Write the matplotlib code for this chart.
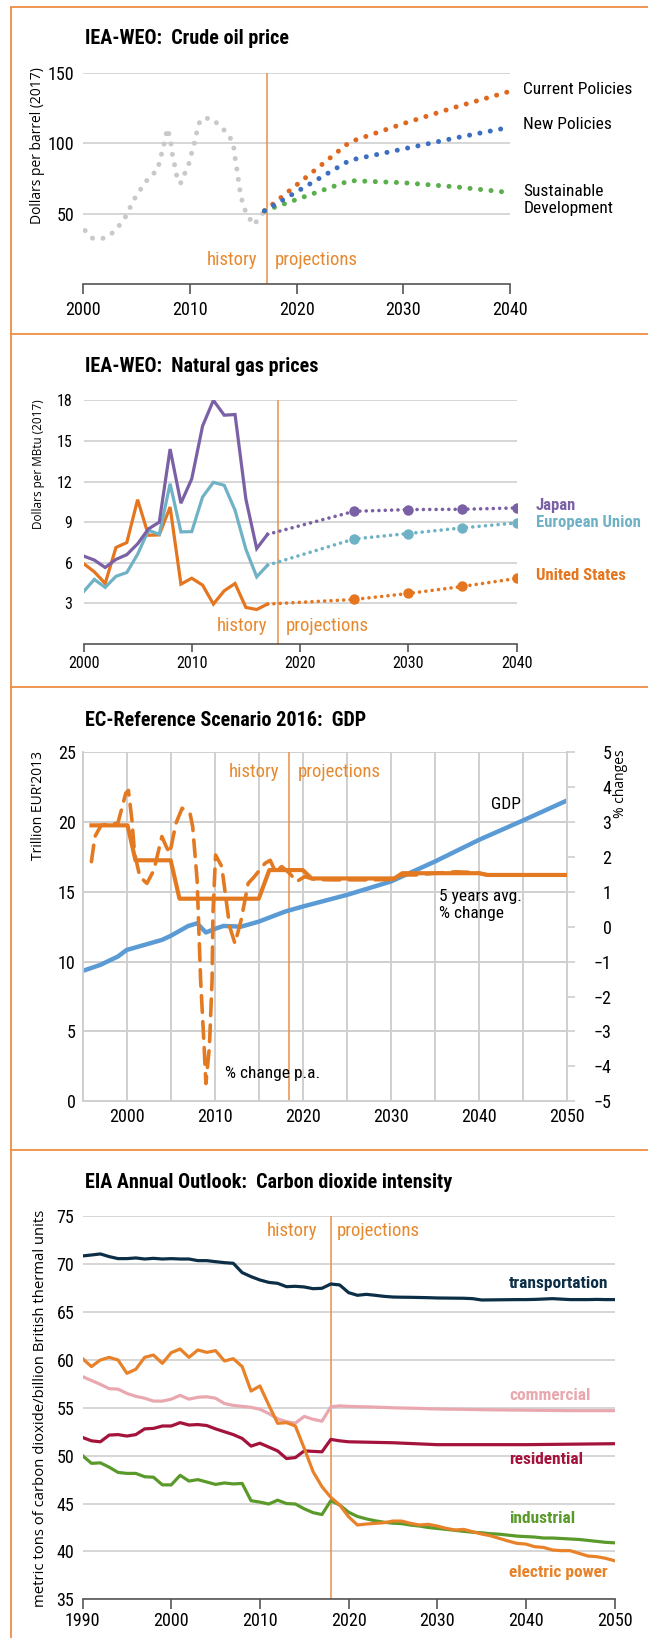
import matplotlib
matplotlib.use("Agg")
import matplotlib.pyplot as plt
from matplotlib import font_manager as fm
from matplotlib.lines import Line2D

# ---- panel 1: IEA-WEO crude oil price ----
oil_hist_years = [2000.2, 2000.9, 2001.9, 2002.8, 2003.5, 2004.1, 2004.5, 2005.0, 2005.6, 2006.2,
                  2007.0, 2007.2, 2007.5, 2007.7, 2007.9, 2008.2, 2008.3, 2008.5, 2008.7, 2008.9,
                  2009.2, 2009.6, 2010.0, 2010.2, 2010.5, 2010.7, 2011.0, 2011.9, 2012.7, 2013.4,
                  2014.0, 2014.2, 2014.3, 2014.5, 2014.6, 2014.8, 2015.0, 2015.4, 2016.0, 2016.6, 2017.0]
oil_hist = [38, 32.5, 32.5, 36.5, 42.5, 49, 56, 63, 69.5, 76,
            81, 88.5, 96, 103.5, 110.5, 103, 95, 87.5, 80, 72,
            72, 80, 87, 94, 102, 109.5, 117, 118, 113.5, 108,
            101.5, 94, 86, 78.5, 70.5, 63, 55.5, 49, 42, 48, 52]
oil_proj_years = [2017, 2025, 2030, 2035, 2040]
oil_current = [52, 101, 114, 126, 137]
oil_new = [52, 88, 96, 104, 111.5]
oil_sustainable = [52, 73.5, 72, 69, 65]

# ---- panel 2: IEA-WEO natural gas prices ----
gas_years = list(range(2000, 2018))
gas_japan = [6.5, 6.2, 5.65, 6.25, 6.6, 7.4, 8.5, 9.0, 14.4, 10.4, 12.2, 16.1, 18.0, 16.9, 16.95, 10.7, 7.05, 8.1]
gas_eu = [3.86, 4.77, 4.18, 5.0, 5.28, 6.63, 8.4, 8.1, 11.84, 8.28, 8.3, 10.86, 11.94, 11.72, 9.88, 7.0, 4.96, 5.82]
gas_us = [5.95, 5.33, 4.47, 7.13, 7.49, 10.66, 8.03, 8.06, 10.12, 4.42, 4.86, 4.35, 2.95, 3.93, 4.47, 2.7, 2.55, 2.95]
gas_proj_years = [2017, 2025, 2030, 2035, 2040]
gas_japan_proj = [8.1, 9.8, 9.93, 9.95, 10.05]
gas_eu_proj = [5.82, 7.76, 8.16, 8.58, 8.94]
gas_us_proj = [2.95, 3.29, 3.73, 4.25, 4.84]

# ---- panel 3: EC reference scenario GDP ----
gdp_years = [1995, 1997, 1999, 2000, 2002, 2004, 2005, 2007, 2008, 2009, 2010, 2011, 2013, 2015,
             2018, 2020, 2025, 2030, 2035, 2040, 2045, 2050]
gdp = [9.33, 9.76, 10.36, 10.83, 11.19, 11.55, 11.84, 12.55, 12.74, 12.08, 12.34, 12.55, 12.5, 12.86,
       13.58, 13.94, 14.77, 15.73, 17.16, 18.71, 20.1, 21.53]
pa_years = [1996.0, 1996.4, 1997.1, 1998.1, 1999.0, 1999.5, 1999.9, 2000.2, 2000.6, 2000.9,
            2001.5, 2002.3, 2003.1, 2004.0, 2004.5, 2004.9, 2005.6, 2006.3, 2007.2, 2007.5,
            2008.0, 2008.4, 2008.8, 2009.0, 2009.4, 2009.7, 2009.8, 2010.1, 2010.8, 2011.2,
            2011.7, 2012.3, 2013.0, 2013.8, 2014.5, 2015.7, 2016.3, 2016.9, 2017.6, 2018.5,
            2019.3, 2020.2, 2021.4, 2023.3, 2025.6, 2028.0, 2030.2, 2031.3, 2032.7, 2035.0,
            2037.4, 2039.7, 2040.9, 2044.4, 2050.0]
pa_change = [1.86, 2.58, 2.9, 2.94, 2.96, 3.43, 3.82, 3.9, 3.05, 2.1,
             1.43, 1.24, 1.62, 2.58, 2.29, 2.1, 2.96, 3.39, 3.24, 2.86,
             1.34, -1.53, -3.44, -4.49, -3.44, -1.53, 0.38, 2.05, 1.72, 0.95,
             0.0, -0.48, 0.19, 1.24, 1.43, 1.81, 1.9, 1.57, 1.72, 1.53,
             1.29, 1.43, 1.35, 1.34, 1.34, 1.34, 1.35, 1.48, 1.48, 1.53,
             1.57, 1.55, 1.48, 1.48, 1.48]
avg_years = [1996, 2000.1, 2001.0, 2005.0, 2006.0, 2015.0, 2016.2, 2020.0, 2021.0, 2030.4, 2031.3,
             2040.0, 2041.0, 2050]
avg_change = [2.9, 2.9, 1.9, 1.9, 0.8, 0.8, 1.62, 1.62, 1.38, 1.38, 1.53, 1.53, 1.48, 1.48]

# ---- panel 4: EIA carbon dioxide intensity ----
co2_years = list(range(1990, 2051))
co2_transport = [70.86, 70.96, 71.07, 70.79, 70.58, 70.58, 70.65, 70.54, 70.61, 70.54,
                 70.58, 70.54, 70.54, 70.37, 70.37, 70.26, 70.16, 70.09, 69.12, 68.7,
                 68.35, 68.1, 68.0, 67.65, 67.69, 67.62, 67.44, 67.48, 67.93, 67.83,
                 67.03, 66.75, 66.85, 66.75, 66.64, 66.57, 66.55, 66.54, 66.52, 66.5,
                 66.47, 66.46, 66.45, 66.44, 66.4, 66.26, 66.27, 66.28, 66.29, 66.3,
                 66.3, 66.32, 66.36, 66.4, 66.35, 66.3, 66.3, 66.3, 66.32, 66.3, 66.3]
co2_electric = [60.13, 59.3, 59.99, 60.27, 59.99, 58.6, 59.02, 60.27, 60.51, 59.64,
                60.76, 61.14, 60.27, 61.04, 60.79, 60.97, 59.89, 60.13, 59.3, 56.75,
                57.28, 55.29, 53.38, 53.45, 53.1, 50.77, 48.33, 46.76, 45.65, 44.85,
                43.63, 42.76, 42.86, 42.93, 43.0, 43.17, 43.17, 42.93, 42.76, 42.83,
                42.65, 42.41, 42.24, 42.3, 42.06, 41.82, 41.64, 41.36, 41.09, 40.84,
                40.77, 40.49, 40.42, 40.15, 40.08, 40.08, 39.8, 39.52, 39.45, 39.28, 39.03]
co2_commercial = [58.25, 57.85, 57.45, 57.0, 56.95, 56.5, 56.2, 56.0, 55.7, 55.7,
                  55.9, 56.3, 55.9, 56.1, 56.15, 56.0, 55.45, 55.25, 55.15, 55.05,
                  54.85, 54.4, 53.85, 53.55, 53.4, 54.1, 53.8, 53.6, 55.1, 55.2,
                  55.15, 55.12, 55.1, 55.07, 55.04, 55.0, 54.98, 54.96, 54.94, 54.9,
                  54.88, 54.86, 54.85, 54.84, 54.82, 54.8, 54.79, 54.78, 54.77, 54.76,
                  54.75, 54.74, 54.73, 54.72, 54.71, 54.7, 54.7, 54.7, 54.7, 54.7, 54.7]
co2_residential = [51.9, 51.55, 51.45, 52.15, 52.2, 52.05, 52.2, 52.8, 52.85, 53.1,
                   53.1, 53.45, 53.2, 53.25, 53.15, 52.8, 52.5, 52.2, 51.8, 51.0,
                   51.3, 50.9, 50.5, 49.7, 49.8, 50.5, 50.45, 50.4, 51.7, 51.55,
                   51.45, 51.43, 51.41, 51.39, 51.37, 51.35, 51.31, 51.27, 51.23, 51.19,
                   51.15, 51.15, 51.15, 51.15, 51.15, 51.15, 51.15, 51.15, 51.15, 51.15,
                   51.15, 51.16, 51.17, 51.18, 51.19, 51.2, 51.21, 51.22, 51.23, 51.24, 51.25]
co2_industrial = [50.0, 49.2, 49.25, 48.8, 48.25, 48.15, 48.15, 47.8, 47.75, 46.95,
                  46.95, 47.95, 47.35, 47.5, 47.25, 47.0, 47.15, 47.05, 47.1, 45.3,
                  45.15, 44.95, 45.35, 45.0, 44.95, 44.45, 44.05, 43.85, 45.3, 44.85,
                  44.1, 43.65, 43.4, 43.2, 43.05, 42.95, 42.9, 42.75, 42.65, 42.5,
                  42.4, 42.3, 42.2, 42.1, 42.0, 41.95, 41.85, 41.8, 41.7, 41.6,
                  41.55, 41.5, 41.4, 41.4, 41.35, 41.3, 41.25, 41.15, 41.05, 40.95, 40.9]

W, H = 648, 1638


def pick_narrow():
    """Find an installed condensed sans family; fall back to a plain one."""
    entries = {}
    for f in fm.fontManager.ttflist:
        entries.setdefault(f.name, set()).add(str(f.stretch))
    narrow = ("condensed", "semi-condensed", "extra-condensed", "ultra-condensed")
    prefs = ["Roboto Condensed", "Liberation Sans Narrow", "Noto Sans Condensed", "Open Sans Condensed",
             "Noto Sans", "DejaVu Sans", "Open Sans", "Roboto", "Lato", "Inter"]
    for name in prefs:
        if name in entries and entries[name] & set(narrow):
            return name, "condensed"
    for name in sorted(entries):
        if "Mono" not in name and "Serif" not in name and entries[name] & set(narrow):
            return name, "condensed"
    for name in ["Liberation Sans", "Roboto", "Noto Sans"]:
        if name in entries:
            return name, "normal"
    return "DejaVu Sans", "normal"


NARROW, STRETCH = pick_narrow()
COND = [NARROW, "DejaVu Sans"]
REG = ["Open Sans", "Noto Sans", "DejaVu Sans"]
plt.rcParams["font.family"] = COND
plt.rcParams["font.stretch"] = STRETCH

FRAME = "#EE8E45"
ORANGE = "#E37A22"
LABEL_OR = "#E6892E"
GRID = "#CFCFCF"
SPINE = "#555555"

fig = plt.figure(figsize=(W / 100, H / 100), dpi=100)


def px_axes(left, top, right, bottom):
    return fig.add_axes([left / W, 1 - bottom / H, (right - left) / W, (bottom - top) / H])


def fig_line(x0, y0, x1, y1):
    fig.add_artist(Line2D([x0 / W, x1 / W], [1 - y0 / H, 1 - y1 / H], transform=fig.transFigure,
                          color=FRAME, lw=1.3, solid_capstyle="butt"))


def title(y, text):
    fig.text(85 / W, 1 - y / H, text, fontsize=14.5, fontweight="bold", va="center", ha="left")


def ylabel(x, y, text, size):
    fig.text(x / W, 1 - y / H, text, rotation=90, fontsize=size, family=REG, fontstretch="normal",
             va="center", ha="center")


def side_label(ax, y, text, color, dx, size, weight="normal"):
    ax.annotate(text, xy=(1, y), xycoords=("axes fraction", "data"), xytext=(dx, 0),
                textcoords="offset points", va="center", ha="left", color=color,
                fontsize=size, fontweight=weight, annotation_clip=False, linespacing=1.15)


def split(ax, x, y, gap_l, gap_r):
    ax.axvline(x, color="#EA9048", lw=1.1, zorder=1)
    ax.annotate("history", xy=(x, y), xytext=(-gap_l, 0), textcoords="offset points",
                ha="right", va="center", color=LABEL_OR, fontsize=13.5)
    ax.annotate("projections", xy=(x, y), xytext=(gap_r, 0), textcoords="offset points",
                ha="left", va="center", color=LABEL_OR, fontsize=13.5)


def base_style(ax, xsize, ysize, ypad):
    for s in ("left", "right", "top"):
        ax.spines[s].set_visible(False)
    ax.spines["bottom"].set_color(SPINE)
    ax.spines["bottom"].set_linewidth(1.2)
    ax.tick_params(axis="x", length=6, width=1.2, color=SPINE, labelsize=xsize, pad=3)
    ax.tick_params(axis="y", length=0, labelsize=ysize, pad=ypad)
    ax.yaxis.grid(True, color=GRID, lw=1.2)
    ax.set_axisbelow(True)


# frame
fig_line(10.5, 7, 10.5, H)
fig_line(10, 7, W, 7)
fig_line(10, 333.5, W, 333.5)
fig_line(10, 686.5, W, 686.5)
fig_line(10, 1150, W, 1150)

# ---------------- panel 1 ----------------
title(39, "IEA-WEO:  Crude oil price")
ax1 = px_axes(83, 73, 510, 284)
ax1.set_xlim(2000, 2040)
ax1.set_ylim(0, 150)
ax1.set_xticks(range(2000, 2041, 10))
ax1.set_yticks([50, 100, 150])
base_style(ax1, 13, 13, 6)
ax1.tick_params(axis="x", length=7, pad=5)
split(ax1, 2017.2, 17, 7, 6)
dot = dict(lw=3.6, dashes=(0.01, 2.1), dash_capstyle="round")
ax1.plot(oil_hist_years, oil_hist, color="#C9C9C9", **dot)
ax1.plot(oil_proj_years, oil_current, color="#E0681E", **dot)
ax1.plot(oil_proj_years, oil_sustainable, color="#5AAE4C", **dot)
ax1.plot(oil_proj_years, oil_new, color="#3C6EC2", **dot)
side_label(ax1, 138.2, "Current Policies", "black", 9.5, 12.5)
side_label(ax1, 113.5, "New Policies", "black", 9.5, 12.5)
side_label(ax1, 59.8, "Sustainable\nDevelopment", "black", 9.5, 12.5)
ylabel(38, 146, "Dollars per barrel (2017)", 10)

# ---------------- panel 2 ----------------
title(367, "IEA-WEO:  Natural gas prices")
ax2 = px_axes(83.5, 400.3, 516.5, 644)
ax2.set_xlim(2000, 2040)
ax2.set_ylim(0, 18)
ax2.set_xticks(range(2000, 2041, 10))
ax2.set_yticks(range(3, 19, 3))
base_style(ax2, 11.5, 11.5, 8)
split(ax2, 2018, 1.3, 8, 5.5)
series = [(gas_us, gas_us_proj, "#E5761F"), (gas_eu, gas_eu_proj, "#6FB2C6"),
          (gas_japan, gas_japan_proj, "#7A60A5")]
for hist, proj, col in series:
    ax2.plot(gas_years, hist, color=col, lw=2.3, solid_joinstyle="miter")
    ax2.plot(gas_proj_years, proj, color=col, lw=2.6, dashes=(0.01, 1.75), dash_capstyle="round")
    ax2.plot(gas_proj_years[1:], proj[1:], "o", color=col, ms=7.5, mew=0)
side_label(ax2, 10.2, "Japan", "#7A60A5", 14, 12, "bold")
side_label(ax2, 9.0, "European Union", "#6FB2C6", 14, 12, "bold")
side_label(ax2, 5.07, "United States", "#E5761F", 14, 12, "bold")
ylabel(38.4, 464, "Dollars per MBtu (2017)", 8.5)

# ---------------- panel 3 ----------------
title(721, "EC-Reference Scenario 2016:  GDP")
ax3 = px_axes(82.6, 752, 567, 1101.3)
ax3.set_xlim(1995, 2050)
ax3.set_ylim(0, 25)
ax3.set_xticks(range(2000, 2051, 10))
ax3.set_xticks(range(1995, 2051, 5), minor=True)
ax3.set_yticks(range(0, 26, 5))
for s in ax3.spines.values():
    s.set_color(GRID)
    s.set_linewidth(1.4)
ax3.spines["top"].set_visible(False)
ax3.tick_params(axis="x", which="both", length=0, labelsize=13, pad=5)
ax3.tick_params(axis="y", length=0, labelsize=13, pad=5)
ax3.grid(True, which="both", color=GRID, lw=1.4)
ax3.set_axisbelow(True)
ax3.axvline(2018.4, color="#EA9048", lw=1.1, zorder=1)
ax3.annotate("history", xy=(2018.4, 23.6), xytext=(-7, 0), textcoords="offset points",
             ha="right", va="center", color=LABEL_OR, fontsize=13.5)
ax3.annotate("projections", xy=(2018.4, 23.6), xytext=(6.5, 0), textcoords="offset points",
             ha="left", va="center", color=LABEL_OR, fontsize=13.5)
ax3.plot(gdp_years, gdp, color="#5B9BD5", lw=3.2, solid_capstyle="butt")
ax3.text(2041.4, 21.27, "GDP", fontsize=12.5, va="center", ha="left")
ax3.text(2035.5, 14.05, "5 years avg.\n% change", fontsize=12.5, va="center", ha="left", linespacing=1.2)
ax3.text(2011.2, 2.0, "% change p.a.", fontsize=12.5, va="center", ha="left")

ax3b = ax3.twinx()
ax3b.set_ylim(-5, 5)
ax3b.set_yticks(range(-5, 6))
for s in ax3b.spines.values():
    s.set_visible(False)
ax3b.tick_params(axis="y", length=6, width=1.2, color=GRID, labelsize=13, pad=26)
for lab in ax3b.get_yticklabels():
    lab.set_horizontalalignment("right")
ax3b.plot(avg_years, avg_change, color=ORANGE, lw=3.0, solid_joinstyle="round")
ax3b.plot(pa_years, pa_change, color=ORANGE, lw=2.6, dashes=(4.6, 2.6), dash_capstyle="round")
ylabel(39, 806, "Trillion EUR'2013", 10)
ylabel(620, 784, "% changes", 10)

# ---------------- panel 4 ----------------
title(1183, "EIA Annual Outlook:  Carbon dioxide intensity")
ax4 = px_axes(82.6, 1216.3, 614.5, 1599.3)
ax4.set_xlim(1990, 2050)
ax4.set_ylim(35, 75)
ax4.set_xticks(range(1990, 2051, 10))
ax4.set_yticks(range(35, 76, 5))
base_style(ax4, 13, 13, 6)
ax4.tick_params(axis="x", length=7, pad=2)
split(ax4, 2018, 73.5, 10, 4)
co2 = [(co2_transport, "#0C2F47", "transportation", 68.0),
       (co2_commercial, "#E9A8AF", "commercial", 56.3),
       (co2_residential, "#A3133C", "residential", 49.55),
       (co2_industrial, "#5A9A2B", "industrial", 43.45),
       (co2_electric, "#E8822A", "electric power", 37.8)]
for vals, col, name, ly in co2:
    ax4.plot(co2_years, vals, color=col, lw=2.3, solid_joinstyle="round")
    ax4.text(2038.1, ly, name, color=col, fontsize=12.5, fontweight="bold", va="center", ha="left")
ylabel(41, 1408, "metric tons of carbon dioxide/billion British thermal units", 10.7)

fig.savefig("out.png", dpi=100)
